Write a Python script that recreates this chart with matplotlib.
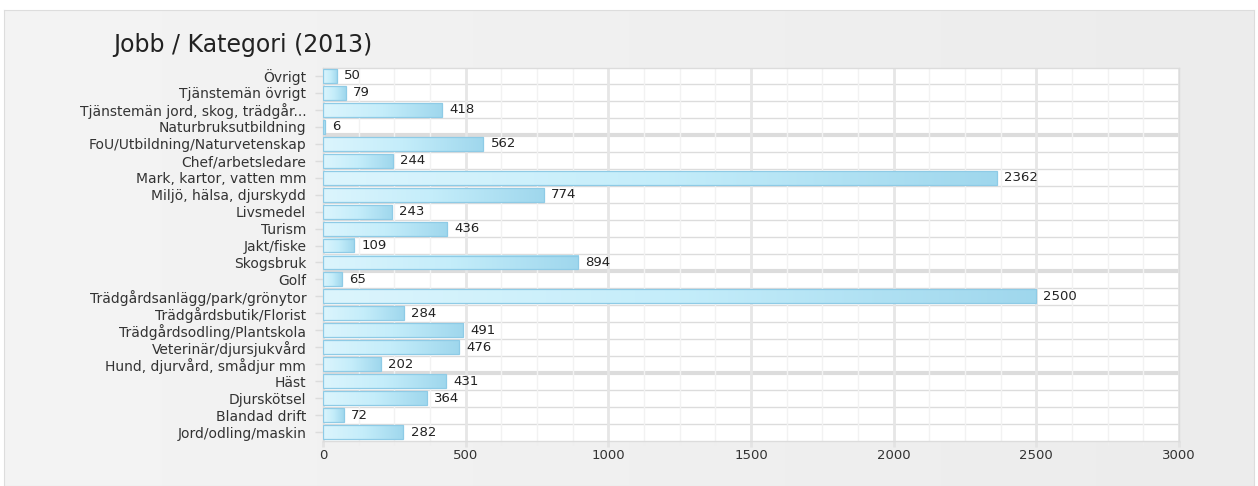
import numpy as np
import matplotlib
matplotlib.use("Agg")
import matplotlib.pyplot as plt
from matplotlib.ticker import MultipleLocator

# Data
categories = [
    "Övrigt",
    "Tjänstemän övrigt",
    "Tjänstemän jord, skog, trädgår...",
    "Naturbruksutbildning",
    "FoU/Utbildning/Naturvetenskap",
    "Chef/arbetsledare",
    "Mark, kartor, vatten mm",
    "Miljö, hälsa, djurskydd",
    "Livsmedel",
    "Turism",
    "Jakt/fiske",
    "Skogsbruk",
    "Golf",
    "Trädgårdsanlägg/park/grönytor",
    "Trädgårdsbutik/Florist",
    "Trädgårdsodling/Plantskola",
    "Veterinär/djursjukvård",
    "Hund, djurvård, smådjur mm",
    "Häst",
    "Djurskötsel",
    "Blandad drift",
    "Jord/odling/maskin",
]
values = [50, 79, 418, 6, 562, 244, 2362, 774, 243, 436, 109, 894,
          65, 2500, 284, 491, 476, 202, 431, 364, 72, 282]
group_breaks = [3, 11, 17]   # thicker separator after these rows
xticks = [0, 500, 1000, 1500, 2000, 2500, 3000]
title = "Jobb / Kategori (2013)"

W, H = 1258, 486
fig = plt.figure(figsize=(W / 100, H / 100), dpi=100)
fig.patch.set_facecolor("white")

# panel background (light grey gradient)
bg = fig.add_axes([4 / W, 0, 1250 / W, (H - 10) / H], zorder=-5)
grad = np.linspace(0, 1, 512).reshape(1, -1)
bg.imshow(grad, aspect="auto", interpolation="bicubic",
          cmap=matplotlib.colors.LinearSegmentedColormap.from_list(
              "bg", ["#f4f4f4", "#ececec"]), extent=[0, 1, 0, 1])
bg.set_xlim(0, 1)
bg.set_ylim(0, 1)
for s in bg.spines.values():
    s.set_color("#dddddd")
bg.set_xticks([])
bg.set_yticks([])

left, right = 323 / W, 1179 / W
top, bottom = 1 - 67.5 / H, 1 - 440.5 / H
ax = fig.add_axes([left, bottom, right - left, top - bottom])
ax.set_facecolor("white")

n = len(categories)
ypos = np.arange(n)
bar_h = 0.82
bar_cmap = matplotlib.colors.LinearSegmentedColormap.from_list(
    "bar", ["#dcf5fd", "#c4edfa", "#9fd7ed"])

for y, v in zip(ypos, values):
    ax.imshow(grad, aspect="auto", cmap=bar_cmap, interpolation="bicubic",
              extent=[0, v, y + bar_h / 2, y - bar_h / 2], zorder=3)
    ax.barh(y, v, height=bar_h, facecolor="none", edgecolor="#8ecbe6",
            linewidth=0.9, zorder=4)
    ax.text(v + 25, y, str(v), va="center", ha="left", fontsize=9.5,
            color="#222222", zorder=5)

ax.set_xlim(0, 3000)
ax.set_ylim(n - 0.5, -0.5)

# grid
ax.xaxis.set_major_locator(MultipleLocator(500))
ax.xaxis.set_minor_locator(MultipleLocator(125))
ax.grid(True, which="major", axis="x", color="#e6e6e6", linewidth=2, zorder=0)
ax.grid(True, which="minor", axis="x", color="#f2f2f2", linewidth=1, zorder=0)
for i in range(n - 1):
    lw = 3 if i in group_breaks else 1
    ax.axhline(i + 0.5, color="#dcdcdc", linewidth=lw, zorder=1)

ax.set_xticks(xticks)
ax.set_xticklabels([str(t) for t in xticks], fontsize=9.5, color="#333333")
ax.set_yticks(ypos)
ax.set_yticklabels(categories, fontsize=10, color="#333333")
ax.tick_params(axis="x", which="major", length=4, width=2, color="#e3e3e3", pad=2)
ax.tick_params(axis="x", which="minor", length=3, width=1, color="#eeeeee")
ax.tick_params(axis="y", length=6, width=1, color="#dcdcdc", pad=6)

for side in ["left", "bottom", "top", "right"]:
    ax.spines[side].set_color("#dcdcdc")
    ax.spines[side].set_linewidth(1)

fig.text(113 / W, 1 - 45 / H, title, fontsize=17, color="#222222",
         ha="left", va="center")

fig.savefig("out.png", dpi=100)
